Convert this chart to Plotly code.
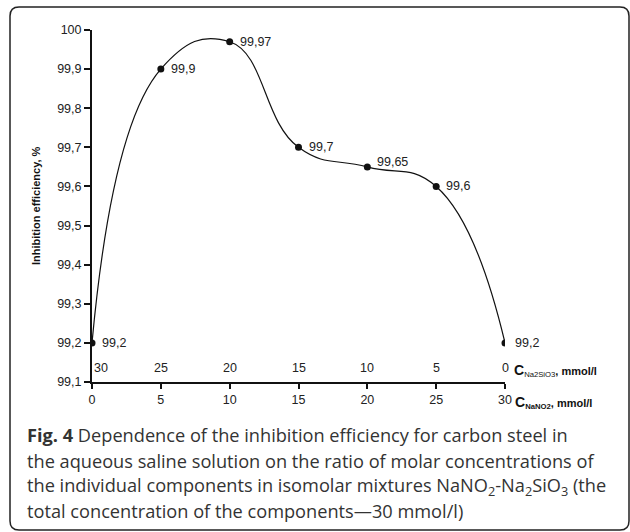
import plotly.graph_objects as go

# Data
c_nano2 = [0, 5, 10, 15, 20, 25, 30]
c_na2sio3 = [30, 25, 20, 15, 10, 5, 0]
efficiency = [99.2, 99.9, 99.97, 99.7, 99.65, 99.6, 99.2]
labels = ["99,2", "99,9", "99,97", "99,7", "99,65", "99,6", "99,2"]
label_yshift = [0, 0, 0, 0, 5, 0, 0]
y_ticks = [99.1, 99.2, 99.3, 99.4, 99.5, 99.6, 99.7, 99.8, 99.9, 100]
y_ticktext = ["99,1", "99,2", "99,3", "99,4", "99,5", "99,6", "99,7", "99,8", "99,9", "100"]
caption_lines = [
    "<b>Fig. 4</b> Dependence of the inhibition efficiency for carbon steel in",
    "the aqueous saline solution on the ratio of molar concentrations of",
    "the individual components in isomolar mixtures NaNO<sub>2</sub>-Na<sub>2</sub>SiO<sub>3</sub> (the",
    "total concentration of the components\u201430 mmol/l)",
]

W, H = 630, 532
L, R, T, B = 92, 125, 30, 150
PW, PH = W - L - R, H - T - B

def px(x):
    return (x - L) / PW

def py(y):
    return (H - B - y) / PH

fig = go.Figure()
fig.add_trace(go.Scatter(
    x=c_nano2, y=efficiency, mode="lines+markers",
    line=dict(color="#111111", width=1.2, shape="spline", smoothing=1.3),
    marker=dict(color="#111111", size=7),
    hoverinfo="skip", showlegend=False,
))

anns = []
for xv, yv, t, ys in zip(c_nano2, efficiency, labels, label_yshift):
    anns.append(dict(x=xv, y=yv, xref="x", yref="y", text=t, showarrow=False,
                     xanchor="left", yanchor="middle", xshift=8, yshift=ys,
                     font=dict(family="Liberation Sans, Arial", size=12.5, color="#222")))

for i, (xv, t) in enumerate(zip(c_nano2, c_na2sio3)):
    anns.append(dict(x=xv, y=py(368), xref="x", yref="paper", text=str(t), showarrow=False,
                     xanchor="left" if i == 0 else "center", yanchor="middle",
                     font=dict(family="Liberation Sans, Arial", size=12.5, color="#222")))

anns.append(dict(x=px(512), y=py(370), xref="paper", yref="paper",
                 text="<b><span style='font-size:14px'>C</span></b><sub>Na2SiO3</sub><b>, mmol/l</b>",
                 showarrow=False, xanchor="left", yanchor="middle",
                 font=dict(family="Liberation Sans, Arial", size=11, color="#111")))
anns.append(dict(x=px(513), y=py(402), xref="paper", yref="paper",
                 text="<b><span style='font-size:14px'>C</span><sub>NaNO2</sub>, mmol/l</b>",
                 showarrow=False, xanchor="left", yanchor="middle",
                 font=dict(family="Liberation Sans, Arial", size=11, color="#111")))
anns.append(dict(x=px(36), y=py(206), xref="paper", yref="paper",
                 text="<b>Inhibition efficiency, %</b>", showarrow=False, textangle=-90,
                 xanchor="center", yanchor="middle",
                 font=dict(family="Liberation Sans, Arial", size=11, color="#111")))

cap_y = [435, 461, 486, 511]
for t, yy in zip(caption_lines, cap_y):
    anns.append(dict(x=px(25), y=py(yy), xref="paper", yref="paper", text=t,
                     showarrow=False, xanchor="left", yanchor="middle",
                     font=dict(family="Open Sans", size=18.2, color="#333")))

x0, x1 = px(10), px(629)
y0, y1 = py(530), py(7)
rx, ry = 9 / PW, 9 / PH
path = (f"M {x0+rx},{y1} L {x1-rx},{y1} Q {x1},{y1} {x1},{y1-ry} "
        f"L {x1},{y0+ry} Q {x1},{y0} {x1-rx},{y0} L {x0+rx},{y0} "
        f"Q {x0},{y0} {x0},{y0+ry} L {x0},{y1-ry} Q {x0},{y1} {x0+rx},{y1} Z")

fig.update_layout(
    width=W, height=H,
    margin=dict(l=L, r=R, t=T, b=B),
    paper_bgcolor="white", plot_bgcolor="white",
    annotations=anns,
    shapes=[dict(type="path", path=path, xref="paper", yref="paper",
                 line=dict(color="#222", width=1.5), layer="below")],
    xaxis=dict(range=[0, 30], tickvals=c_nano2, ticktext=[str(v) for v in c_nano2],
               showgrid=False, zeroline=False, showline=True, linecolor="#111", linewidth=2,
               ticks="outside", ticklen=5, tickwidth=2, tickcolor="#111",
               tickfont=dict(family="Liberation Sans, Arial", size=12.5, color="#222")),
    yaxis=dict(range=[99.1, 100], tickvals=y_ticks, ticktext=y_ticktext,
               showgrid=False, zeroline=False, showline=True, linecolor="#111", linewidth=2,
               ticks="outside", ticklen=6, tickwidth=2, tickcolor="#111",
               tickfont=dict(family="Liberation Sans, Arial", size=12.5, color="#222")),
)

fig.write_html("out.html", config={"displayModeBar": False},
               post_script="document.body.style.margin='0';document.body.style.padding='0';")
